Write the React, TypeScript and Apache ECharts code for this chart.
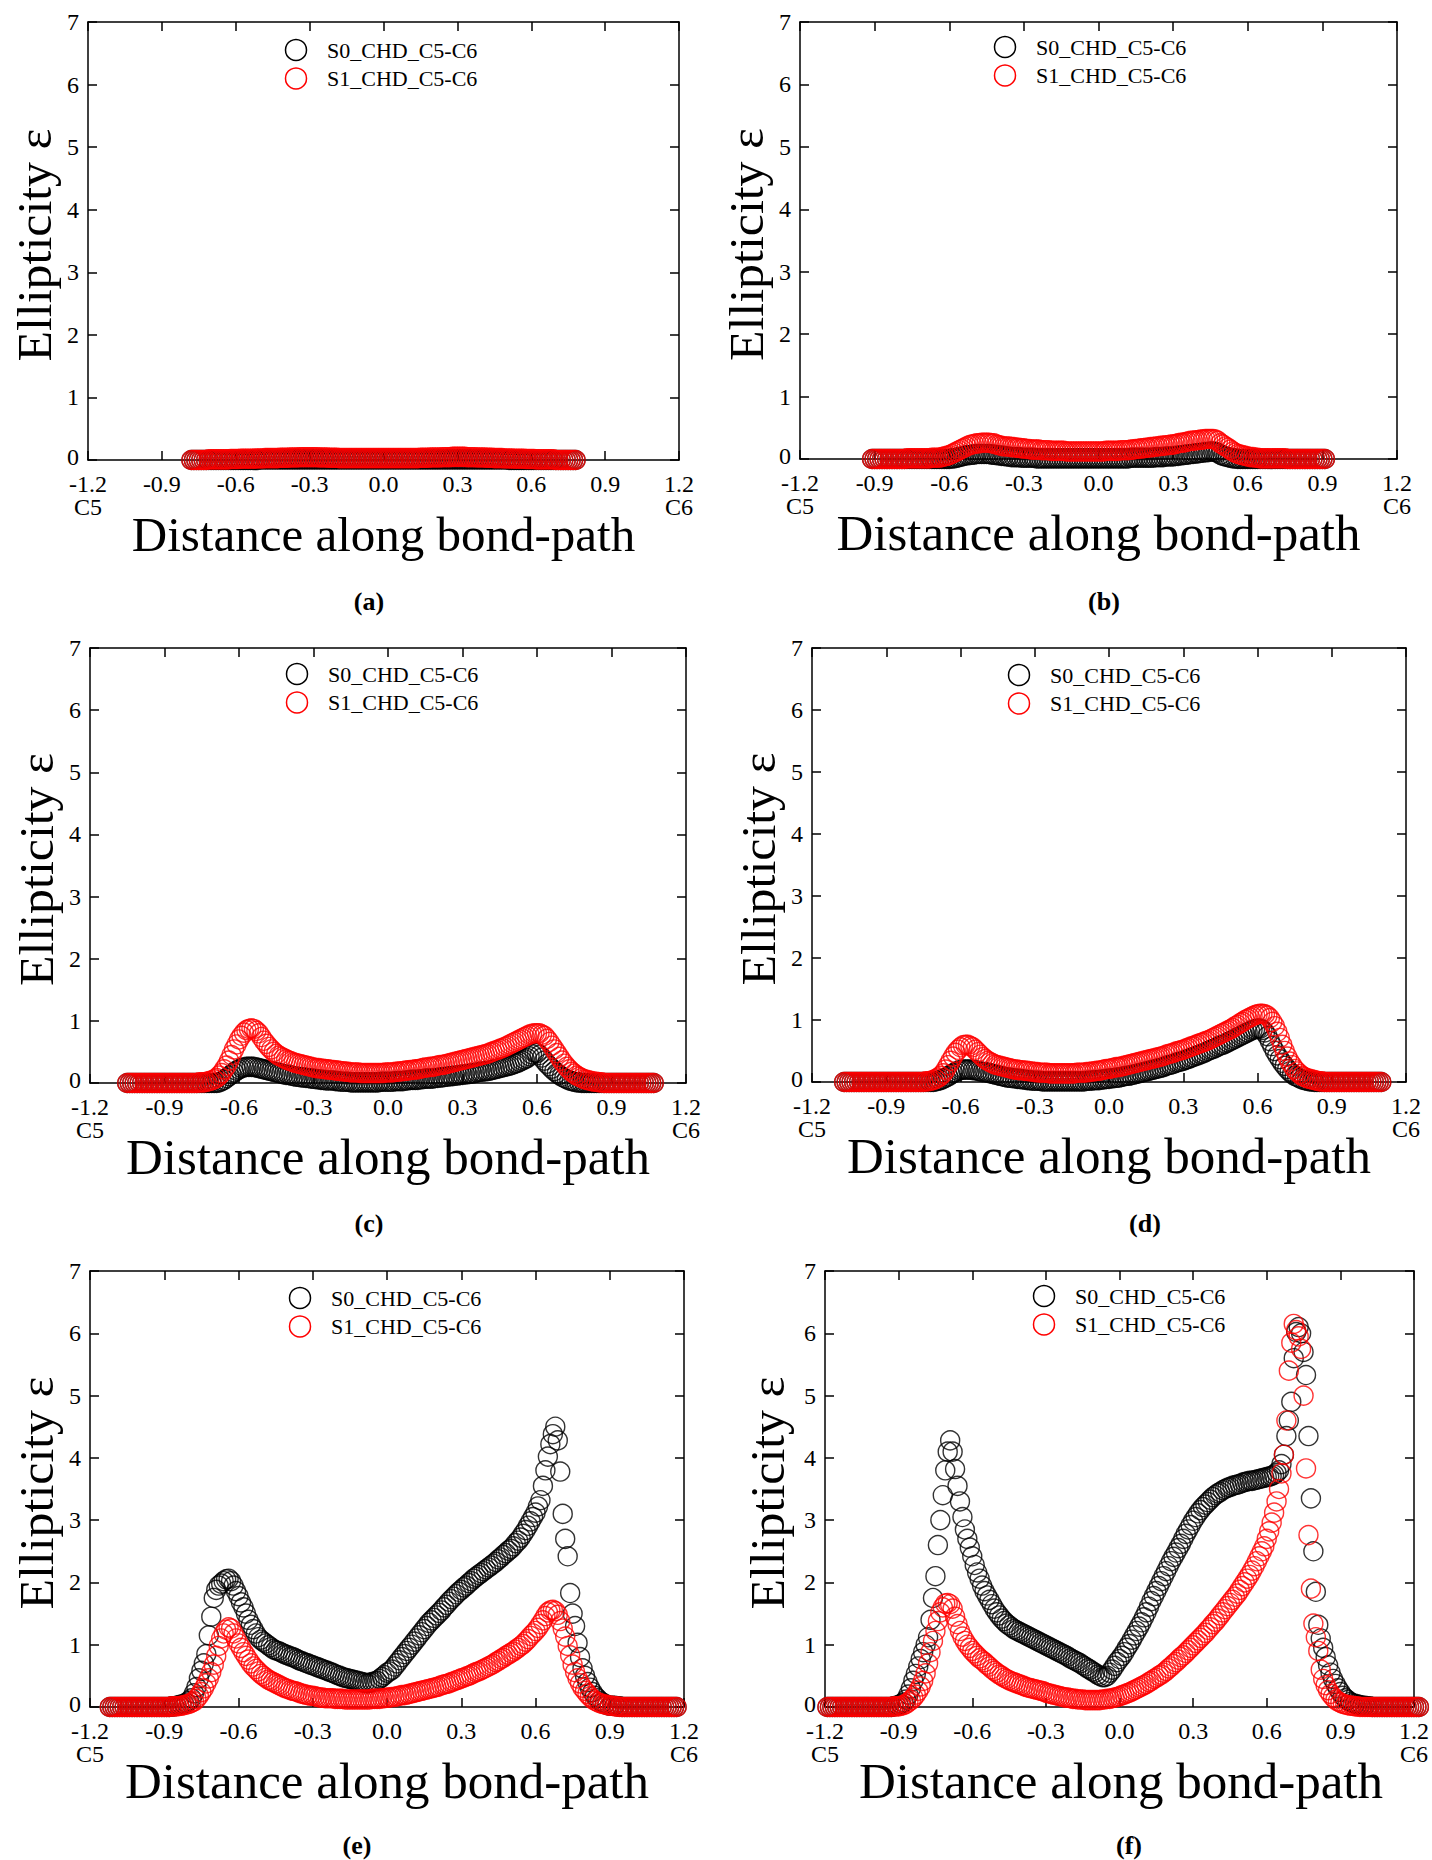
import React, { useEffect, useRef } from "react";
import * as echarts from "echarts";

// Ellipticity profiles along the C5-C6 bond-path, six snapshots (a)-(f).
// Each panel: sample positions (0.01 apart) plus S0 and S1 ellipticity values,
// written ten samples per line.

const SERIES_NAMES = ["S0_CHD_C5-C6", "S1_CHD_C5-C6"];
const PANEL_TAGS = ["(a)", "(b)", "(c)", "(d)", "(e)", "(f)"];
const X_TITLE = "Distance along bond-path";
const Y_TITLE = "Ellipticity \u03b5";
const X_MIN = -1.2;
const X_MAX = 1.2;
const X_STEP = 0.3;
const Y_MIN = 0;
const Y_MAX = 7;
const Y_STEP = 1;

// ---------- panel (a) ----------
const xsA = [
  -0.78, -0.77, -0.76, -0.75, -0.74, -0.73, -0.72, -0.71, -0.7, -0.69,
  -0.68, -0.67, -0.66, -0.65, -0.64, -0.63, -0.62, -0.61, -0.6, -0.59,
  -0.58, -0.57, -0.56, -0.55, -0.54, -0.53, -0.52, -0.51, -0.5, -0.49,
  -0.48, -0.47, -0.46, -0.45, -0.44, -0.43, -0.42, -0.41, -0.4, -0.39,
  -0.38, -0.37, -0.36, -0.35, -0.34, -0.33, -0.32, -0.31, -0.3, -0.29,
  -0.28, -0.27, -0.26, -0.25, -0.24, -0.23, -0.22, -0.21, -0.2, -0.19,
  -0.18, -0.17, -0.16, -0.15, -0.14, -0.13, -0.12, -0.11, -0.1, -0.09,
  -0.08, -0.07, -0.06, -0.05, -0.04, -0.03, -0.02, -0.01, 0.0, 0.01,
  0.02, 0.03, 0.04, 0.05, 0.06, 0.07, 0.08, 0.09, 0.1, 0.11,
  0.12, 0.13, 0.14, 0.15, 0.16, 0.17, 0.18, 0.19, 0.2, 0.21,
  0.22, 0.23, 0.24, 0.25, 0.26, 0.27, 0.28, 0.29, 0.3, 0.31,
  0.32, 0.33, 0.34, 0.35, 0.36, 0.37, 0.38, 0.39, 0.4, 0.41,
  0.42, 0.43, 0.44, 0.45, 0.46, 0.47, 0.48, 0.49, 0.5, 0.51,
  0.52, 0.53, 0.54, 0.55, 0.56, 0.57, 0.58, 0.59, 0.6, 0.61,
  0.62, 0.63, 0.64, 0.65, 0.66, 0.67, 0.68, 0.69, 0.7, 0.71,
  0.72, 0.73, 0.74, 0.75, 0.76, 0.77, 0.78,
];
const s0A = [
  0, 0, 0, 0, 0, 0, 0, 0, 0, 0,
  0, 0, 0, 0, 0, 0, 0, 0, 0, 0,
  0, 0, 0, 0, 0, 0, 0, 0, 0.01, 0.01,
  0.01, 0.01, 0.01, 0.01, 0.01, 0.01, 0.01, 0.01, 0.01, 0.01,
  0.01, 0.01, 0.01, 0.01, 0.01, 0.01, 0.01, 0.01, 0.01, 0.01,
  0.01, 0.01, 0.01, 0.01, 0.01, 0.01, 0.01, 0.01, 0.01, 0.01,
  0.01, 0.01, 0.01, 0.01, 0.01, 0.01, 0.01, 0.01, 0.01, 0.01,
  0.01, 0.01, 0.01, 0.01, 0.01, 0.01, 0.01, 0.01, 0.01, 0.01,
  0.01, 0.01, 0.01, 0.01, 0.01, 0.01, 0.01, 0.01, 0.01, 0.01,
  0.01, 0.01, 0.01, 0.01, 0.01, 0.01, 0.01, 0.01, 0.01, 0.01,
  0.01, 0.01, 0.01, 0.01, 0.01, 0.01, 0.01, 0.01, 0.01, 0.01,
  0.01, 0.01, 0.01, 0.01, 0.01, 0.01, 0.01, 0.01, 0.01, 0.01,
  0.01, 0.01, 0.01, 0.01, 0.01, 0.01, 0.01, 0.01, 0.01, 0,
  0, 0, 0, 0, 0, 0, 0, 0, 0, 0,
  0, 0, 0, 0, 0, 0, 0, 0, 0, 0,
  0, 0, 0, 0, 0, 0, 0,
];
const s1A = [
  0, 0, 0, 0, 0, 0, 0, 0.01, 0.01, 0.01,
  0.01, 0.01, 0.01, 0.01, 0.01, 0.01, 0.015, 0.015, 0.015, 0.015,
  0.02, 0.02, 0.02, 0.02, 0.02, 0.02, 0.025, 0.025, 0.025, 0.025,
  0.03, 0.03, 0.03, 0.03, 0.03, 0.03, 0.035, 0.035, 0.035, 0.035,
  0.04, 0.04, 0.04, 0.04, 0.045, 0.045, 0.045, 0.045, 0.045, 0.045,
  0.045, 0.045, 0.04, 0.04, 0.04, 0.04, 0.035, 0.035, 0.035, 0.035,
  0.03, 0.03, 0.03, 0.03, 0.03, 0.03, 0.03, 0.03, 0.03, 0.03,
  0.03, 0.03, 0.03, 0.03, 0.03, 0.03, 0.03, 0.03, 0.03, 0.03,
  0.03, 0.03, 0.03, 0.03, 0.03, 0.03, 0.03, 0.03, 0.03, 0.03,
  0.03, 0.03, 0.03, 0.035, 0.035, 0.035, 0.035, 0.04, 0.04, 0.04,
  0.04, 0.04, 0.045, 0.045, 0.045, 0.045, 0.05, 0.05, 0.05, 0.05,
  0.05, 0.05, 0.045, 0.045, 0.045, 0.045, 0.04, 0.04, 0.04, 0.04,
  0.035, 0.035, 0.035, 0.03, 0.03, 0.03, 0.03, 0.025, 0.025, 0.025,
  0.025, 0.02, 0.02, 0.02, 0.02, 0.02, 0.015, 0.015, 0.015, 0.015,
  0.01, 0.01, 0.01, 0.01, 0.01, 0.01, 0.01, 0.01, 0, 0,
  0, 0, 0, 0, 0, 0, 0,
];

// ---------- panel (b) ----------
const xsB = [
  -0.91, -0.9, -0.89, -0.88, -0.87, -0.86, -0.85, -0.84, -0.83, -0.82,
  -0.81, -0.8, -0.79, -0.78, -0.77, -0.76, -0.75, -0.74, -0.73, -0.72,
  -0.71, -0.7, -0.69, -0.68, -0.67, -0.66, -0.65, -0.64, -0.63, -0.62,
  -0.61, -0.6, -0.59, -0.58, -0.57, -0.56, -0.55, -0.54, -0.53, -0.52,
  -0.51, -0.5, -0.49, -0.48, -0.47, -0.46, -0.45, -0.44, -0.43, -0.42,
  -0.41, -0.4, -0.39, -0.38, -0.37, -0.36, -0.35, -0.34, -0.33, -0.32,
  -0.31, -0.3, -0.29, -0.28, -0.27, -0.26, -0.25, -0.24, -0.23, -0.22,
  -0.21, -0.2, -0.19, -0.18, -0.17, -0.16, -0.15, -0.14, -0.13, -0.12,
  -0.11, -0.1, -0.09, -0.08, -0.07, -0.06, -0.05, -0.04, -0.03, -0.02,
  -0.01, 0.0, 0.01, 0.02, 0.03, 0.04, 0.05, 0.06, 0.07, 0.08,
  0.09, 0.1, 0.11, 0.12, 0.13, 0.14, 0.15, 0.16, 0.17, 0.18,
  0.19, 0.2, 0.21, 0.22, 0.23, 0.24, 0.25, 0.26, 0.27, 0.28,
  0.29, 0.3, 0.31, 0.32, 0.33, 0.34, 0.35, 0.36, 0.37, 0.38,
  0.39, 0.4, 0.41, 0.42, 0.43, 0.44, 0.45, 0.46, 0.47, 0.48,
  0.49, 0.5, 0.51, 0.52, 0.53, 0.54, 0.55, 0.56, 0.57, 0.58,
  0.59, 0.6, 0.61, 0.62, 0.63, 0.64, 0.65, 0.66, 0.67, 0.68,
  0.69, 0.7, 0.71, 0.72, 0.73, 0.74, 0.75, 0.76, 0.77, 0.78,
  0.79, 0.8, 0.81, 0.82, 0.83, 0.84, 0.85, 0.86, 0.87, 0.88,
  0.89, 0.9, 0.91,
];
const s0B = [
  0, 0, 0, 0, 0, 0, 0, 0, 0, 0,
  0, 0, 0, 0, 0, 0, 0, 0, 0, 0,
  0, 0, 0, 0, 0, 0, 0, 0, 0, 0,
  0, 0, 0.01, 0.01, 0.02, 0.03, 0.04, 0.05, 0.06, 0.06,
  0.07, 0.07, 0.08, 0.08, 0.08, 0.08, 0.08, 0.08, 0.07, 0.07,
  0.06, 0.06, 0.05, 0.05, 0.04, 0.04, 0.03, 0.03, 0.03, 0.03,
  0.02, 0.02, 0.02, 0.02, 0.02, 0.02, 0.01, 0.01, 0.01, 0.01,
  0.01, 0.01, 0.01, 0.01, 0.01, 0.01, 0.01, 0.01, 0.01, 0.01,
  0.01, 0.01, 0.01, 0.01, 0.01, 0.01, 0.01, 0.01, 0.01, 0.01,
  0.01, 0.01, 0.01, 0.01, 0.01, 0.01, 0.01, 0.01, 0.01, 0.01,
  0.01, 0.01, 0.01, 0.01, 0.02, 0.02, 0.02, 0.02, 0.02, 0.02,
  0.02, 0.02, 0.02, 0.02, 0.03, 0.03, 0.03, 0.03, 0.04, 0.04,
  0.04, 0.04, 0.05, 0.05, 0.06, 0.06, 0.07, 0.07, 0.08, 0.08,
  0.09, 0.09, 0.1, 0.1, 0.11, 0.11, 0.12, 0.12, 0.11, 0.1,
  0.07, 0.05, 0.04, 0.03, 0.02, 0.01, 0.01, 0, 0, 0,
  0, 0, 0, 0, 0, 0, 0, 0, 0, 0,
  0, 0, 0, 0, 0, 0, 0, 0, 0, 0,
  0, 0, 0, 0, 0, 0, 0, 0, 0, 0,
  0, 0, 0,
];
const s1B = [
  0, 0, 0, 0, 0, 0, 0, 0, 0, 0,
  0, 0, 0, 0, 0.01, 0.01, 0.01, 0.01, 0.01, 0.01,
  0.01, 0.01, 0.01, 0.01, 0.02, 0.02, 0.02, 0.02, 0.03, 0.04,
  0.05, 0.06, 0.08, 0.1, 0.12, 0.14, 0.16, 0.18, 0.2, 0.22,
  0.23, 0.24, 0.25, 0.25, 0.26, 0.26, 0.26, 0.26, 0.25, 0.25,
  0.23, 0.22, 0.21, 0.2, 0.2, 0.2, 0.19, 0.19, 0.18, 0.18,
  0.17, 0.17, 0.16, 0.16, 0.15, 0.15, 0.15, 0.15, 0.14, 0.14,
  0.14, 0.14, 0.13, 0.13, 0.13, 0.13, 0.13, 0.13, 0.12, 0.12,
  0.12, 0.12, 0.12, 0.12, 0.12, 0.12, 0.12, 0.12, 0.12, 0.12,
  0.12, 0.12, 0.12, 0.12, 0.13, 0.13, 0.13, 0.13, 0.13, 0.13,
  0.14, 0.14, 0.14, 0.14, 0.15, 0.15, 0.16, 0.16, 0.17, 0.17,
  0.18, 0.18, 0.19, 0.19, 0.2, 0.2, 0.21, 0.21, 0.22, 0.22,
  0.23, 0.23, 0.24, 0.25, 0.26, 0.26, 0.27, 0.28, 0.29, 0.29,
  0.3, 0.3, 0.31, 0.31, 0.32, 0.32, 0.32, 0.32, 0.31, 0.29,
  0.25, 0.23, 0.2, 0.18, 0.15, 0.12, 0.1, 0.08, 0.07, 0.06,
  0.05, 0.04, 0.03, 0.03, 0.02, 0.02, 0.01, 0.01, 0.01, 0.01,
  0.01, 0.01, 0.01, 0.01, 0.01, 0.01, 0.01, 0, 0, 0,
  0, 0, 0, 0, 0, 0, 0, 0, 0, 0,
  0, 0, 0,
];

// ---------- panel (c) ----------
const xsC = [
  -1.05, -1.04, -1.03, -1.02, -1.01, -1.0, -0.99, -0.98, -0.97, -0.96,
  -0.95, -0.94, -0.93, -0.92, -0.91, -0.9, -0.89, -0.88, -0.87, -0.86,
  -0.85, -0.84, -0.83, -0.82, -0.81, -0.8, -0.79, -0.78, -0.77, -0.76,
  -0.75, -0.74, -0.73, -0.72, -0.71, -0.7, -0.69, -0.68, -0.67, -0.66,
  -0.65, -0.64, -0.63, -0.62, -0.61, -0.6, -0.59, -0.58, -0.57, -0.56,
  -0.55, -0.54, -0.53, -0.52, -0.51, -0.5, -0.49, -0.48, -0.47, -0.46,
  -0.45, -0.44, -0.43, -0.42, -0.41, -0.4, -0.39, -0.38, -0.37, -0.36,
  -0.35, -0.34, -0.33, -0.32, -0.31, -0.3, -0.29, -0.28, -0.27, -0.26,
  -0.25, -0.24, -0.23, -0.22, -0.21, -0.2, -0.19, -0.18, -0.17, -0.16,
  -0.15, -0.14, -0.13, -0.12, -0.11, -0.1, -0.09, -0.08, -0.07, -0.06,
  -0.05, -0.04, -0.03, -0.02, -0.01, 0.0, 0.01, 0.02, 0.03, 0.04,
  0.05, 0.06, 0.07, 0.08, 0.09, 0.1, 0.11, 0.12, 0.13, 0.14,
  0.15, 0.16, 0.17, 0.18, 0.19, 0.2, 0.21, 0.22, 0.23, 0.24,
  0.25, 0.26, 0.27, 0.28, 0.29, 0.3, 0.31, 0.32, 0.33, 0.34,
  0.35, 0.36, 0.37, 0.38, 0.39, 0.4, 0.41, 0.42, 0.43, 0.44,
  0.45, 0.46, 0.47, 0.48, 0.49, 0.5, 0.51, 0.52, 0.53, 0.54,
  0.55, 0.56, 0.57, 0.58, 0.59, 0.6, 0.61, 0.62, 0.63, 0.64,
  0.65, 0.66, 0.67, 0.68, 0.69, 0.7, 0.71, 0.72, 0.73, 0.74,
  0.75, 0.76, 0.77, 0.78, 0.79, 0.8, 0.81, 0.82, 0.83, 0.84,
  0.85, 0.86, 0.87, 0.88, 0.89, 0.9, 0.91, 0.92, 0.93, 0.94,
  0.95, 0.96, 0.97, 0.98, 0.99, 1.0, 1.01, 1.02, 1.03, 1.04,
  1.05, 1.06, 1.07,
];
const s0C = [
  0, 0, 0, 0, 0, 0, 0, 0, 0, 0,
  0, 0, 0, 0, 0, 0, 0, 0, 0, 0,
  0, 0, 0, 0, 0, 0, 0, 0, 0, 0,
  0, 0, 0, 0, 0, 0, 0, 0.01, 0.03, 0.05,
  0.08, 0.11, 0.14, 0.17, 0.2, 0.22, 0.24, 0.25, 0.26, 0.26,
  0.26, 0.26, 0.25, 0.24, 0.23, 0.22, 0.21, 0.2, 0.19, 0.18,
  0.17, 0.16, 0.15, 0.14, 0.13, 0.13, 0.12, 0.11, 0.1, 0.1,
  0.09, 0.09, 0.08, 0.08, 0.07, 0.07, 0.06, 0.06, 0.05, 0.05,
  0.04, 0.04, 0.04, 0.04, 0.03, 0.03, 0.02, 0.02, 0.02, 0.02,
  0.01, 0.01, 0.01, 0.01, 0.01, 0.01, 0.01, 0.01, 0.01, 0.01,
  0.01, 0.01, 0.02, 0.02, 0.02, 0.02, 0.02, 0.02, 0.03, 0.03,
  0.03, 0.03, 0.04, 0.04, 0.05, 0.05, 0.05, 0.05, 0.06, 0.06,
  0.07, 0.07, 0.07, 0.07, 0.08, 0.08, 0.09, 0.09, 0.1, 0.1,
  0.11, 0.11, 0.12, 0.12, 0.13, 0.13, 0.14, 0.14, 0.15, 0.15,
  0.16, 0.17, 0.18, 0.18, 0.19, 0.19, 0.2, 0.21, 0.22, 0.23,
  0.24, 0.25, 0.26, 0.27, 0.28, 0.29, 0.31, 0.32, 0.34, 0.36,
  0.38, 0.4, 0.43, 0.46, 0.49, 0.48, 0.45, 0.41, 0.36, 0.31,
  0.27, 0.23, 0.19, 0.16, 0.13, 0.1, 0.08, 0.06, 0.04, 0.03,
  0.02, 0.01, 0.01, 0, 0, 0, 0, 0, 0, 0,
  0, 0, 0, 0, 0, 0, 0, 0, 0, 0,
  0, 0, 0, 0, 0, 0, 0, 0, 0, 0,
  0, 0, 0,
];
const s1C = [
  0, 0, 0, 0, 0, 0, 0, 0, 0, 0,
  0, 0, 0, 0, 0, 0, 0, 0, 0, 0,
  0, 0, 0, 0, 0, 0, 0, 0, 0, 0.01,
  0.01, 0.01, 0.02, 0.03, 0.04, 0.06, 0.08, 0.12, 0.16, 0.22,
  0.28, 0.36, 0.45, 0.54, 0.62, 0.7, 0.76, 0.81, 0.85, 0.87,
  0.88, 0.87, 0.84, 0.8, 0.74, 0.68, 0.63, 0.58, 0.54, 0.5,
  0.47, 0.44, 0.42, 0.4, 0.38, 0.36, 0.35, 0.33, 0.32, 0.31,
  0.3, 0.29, 0.28, 0.27, 0.26, 0.25, 0.24, 0.24, 0.23, 0.23,
  0.22, 0.22, 0.21, 0.21, 0.2, 0.2, 0.19, 0.19, 0.18, 0.18,
  0.17, 0.17, 0.17, 0.17, 0.16, 0.16, 0.16, 0.16, 0.16, 0.16,
  0.16, 0.16, 0.16, 0.16, 0.17, 0.17, 0.17, 0.17, 0.18, 0.18,
  0.19, 0.19, 0.2, 0.2, 0.21, 0.21, 0.22, 0.22, 0.23, 0.24,
  0.25, 0.25, 0.26, 0.26, 0.27, 0.28, 0.29, 0.29, 0.3, 0.31,
  0.32, 0.33, 0.34, 0.35, 0.36, 0.37, 0.38, 0.39, 0.4, 0.41,
  0.42, 0.43, 0.44, 0.45, 0.46, 0.47, 0.49, 0.5, 0.52, 0.53,
  0.55, 0.56, 0.58, 0.6, 0.62, 0.64, 0.66, 0.68, 0.7, 0.72,
  0.74, 0.76, 0.78, 0.79, 0.8, 0.8, 0.8, 0.78, 0.76, 0.71,
  0.66, 0.6, 0.54, 0.48, 0.42, 0.36, 0.31, 0.26, 0.22, 0.18,
  0.15, 0.12, 0.1, 0.08, 0.06, 0.05, 0.04, 0.03, 0.02, 0.02,
  0.01, 0.01, 0, 0, 0, 0, 0, 0, 0, 0,
  0, 0, 0, 0, 0, 0, 0, 0, 0, 0,
  0, 0, 0,
];

// ---------- panel (d) ----------
const xsD = [
  -1.07, -1.06, -1.05, -1.04, -1.03, -1.02, -1.01, -1.0, -0.99, -0.98,
  -0.97, -0.96, -0.95, -0.94, -0.93, -0.92, -0.91, -0.9, -0.89, -0.88,
  -0.87, -0.86, -0.85, -0.84, -0.83, -0.82, -0.81, -0.8, -0.79, -0.78,
  -0.77, -0.76, -0.75, -0.74, -0.73, -0.72, -0.71, -0.7, -0.69, -0.68,
  -0.67, -0.66, -0.65, -0.64, -0.63, -0.62, -0.61, -0.6, -0.59, -0.58,
  -0.57, -0.56, -0.55, -0.54, -0.53, -0.52, -0.51, -0.5, -0.49, -0.48,
  -0.47, -0.46, -0.45, -0.44, -0.43, -0.42, -0.41, -0.4, -0.39, -0.38,
  -0.37, -0.36, -0.35, -0.34, -0.33, -0.32, -0.31, -0.3, -0.29, -0.28,
  -0.27, -0.26, -0.25, -0.24, -0.23, -0.22, -0.21, -0.2, -0.19, -0.18,
  -0.17, -0.16, -0.15, -0.14, -0.13, -0.12, -0.11, -0.1, -0.09, -0.08,
  -0.07, -0.06, -0.05, -0.04, -0.03, -0.02, -0.01, 0.0, 0.01, 0.02,
  0.03, 0.04, 0.05, 0.06, 0.07, 0.08, 0.09, 0.1, 0.11, 0.12,
  0.13, 0.14, 0.15, 0.16, 0.17, 0.18, 0.19, 0.2, 0.21, 0.22,
  0.23, 0.24, 0.25, 0.26, 0.27, 0.28, 0.29, 0.3, 0.31, 0.32,
  0.33, 0.34, 0.35, 0.36, 0.37, 0.38, 0.39, 0.4, 0.41, 0.42,
  0.43, 0.44, 0.45, 0.46, 0.47, 0.48, 0.49, 0.5, 0.51, 0.52,
  0.53, 0.54, 0.55, 0.56, 0.57, 0.58, 0.59, 0.6, 0.61, 0.62,
  0.63, 0.64, 0.65, 0.66, 0.67, 0.68, 0.69, 0.7, 0.71, 0.72,
  0.73, 0.74, 0.75, 0.76, 0.77, 0.78, 0.79, 0.8, 0.81, 0.82,
  0.83, 0.84, 0.85, 0.86, 0.87, 0.88, 0.89, 0.9, 0.91, 0.92,
  0.93, 0.94, 0.95, 0.96, 0.97, 0.98, 0.99, 1.0, 1.01, 1.02,
  1.03, 1.04, 1.05, 1.06, 1.07, 1.08, 1.09, 1.1,
];
const s0D = [
  0, 0, 0, 0, 0, 0, 0, 0, 0, 0,
  0, 0, 0, 0, 0, 0, 0, 0, 0, 0,
  0, 0, 0, 0, 0, 0, 0, 0, 0, 0,
  0, 0, 0, 0, 0, 0, 0, 0.01, 0.02, 0.03,
  0.05, 0.07, 0.09, 0.12, 0.14, 0.16, 0.18, 0.19, 0.2, 0.2,
  0.2, 0.2, 0.19, 0.19, 0.18, 0.17, 0.16, 0.16, 0.15, 0.14,
  0.13, 0.12, 0.11, 0.1, 0.09, 0.08, 0.07, 0.07, 0.06, 0.06,
  0.05, 0.05, 0.04, 0.04, 0.03, 0.03, 0.02, 0.02, 0.02, 0.02,
  0.01, 0.01, 0.01, 0.01, 0.01, 0.01, 0.01, 0.01, 0.01, 0.01,
  0.01, 0.01, 0.01, 0.01, 0.01, 0.01, 0.01, 0.01, 0.02, 0.02,
  0.02, 0.03, 0.03, 0.03, 0.04, 0.04, 0.05, 0.05, 0.06, 0.06,
  0.07, 0.07, 0.08, 0.09, 0.1, 0.1, 0.11, 0.12, 0.13, 0.14,
  0.15, 0.16, 0.17, 0.18, 0.19, 0.2, 0.21, 0.22, 0.23, 0.24,
  0.26, 0.27, 0.28, 0.29, 0.31, 0.32, 0.33, 0.34, 0.36, 0.37,
  0.39, 0.4, 0.42, 0.43, 0.45, 0.46, 0.48, 0.5, 0.52, 0.53,
  0.55, 0.57, 0.59, 0.6, 0.62, 0.64, 0.66, 0.68, 0.7, 0.72,
  0.74, 0.76, 0.78, 0.8, 0.82, 0.84, 0.85, 0.86, 0.86, 0.84,
  0.8, 0.74, 0.66, 0.58, 0.5, 0.43, 0.37, 0.31, 0.26, 0.21,
  0.17, 0.13, 0.1, 0.08, 0.06, 0.04, 0.03, 0.02, 0.01, 0.01,
  0, 0, 0, 0, 0, 0, 0, 0, 0, 0,
  0, 0, 0, 0, 0, 0, 0, 0, 0, 0,
  0, 0, 0, 0, 0, 0, 0, 0,
];
const s1D = [
  0, 0, 0, 0, 0, 0, 0, 0, 0, 0,
  0, 0, 0, 0, 0, 0, 0, 0, 0, 0,
  0, 0, 0, 0, 0, 0, 0, 0, 0, 0,
  0, 0, 0, 0.01, 0.01, 0.02, 0.03, 0.05, 0.07, 0.1,
  0.14, 0.2, 0.27, 0.34, 0.41, 0.47, 0.52, 0.56, 0.59, 0.6,
  0.6, 0.58, 0.56, 0.52, 0.48, 0.44, 0.4, 0.37, 0.34, 0.32,
  0.3, 0.28, 0.27, 0.26, 0.25, 0.24, 0.23, 0.22, 0.21, 0.2,
  0.2, 0.19, 0.19, 0.18, 0.18, 0.17, 0.17, 0.16, 0.16, 0.15,
  0.15, 0.15, 0.15, 0.14, 0.14, 0.14, 0.14, 0.14, 0.14, 0.14,
  0.14, 0.14, 0.14, 0.14, 0.15, 0.15, 0.15, 0.15, 0.16, 0.16,
  0.17, 0.17, 0.18, 0.18, 0.19, 0.2, 0.21, 0.21, 0.22, 0.23,
  0.24, 0.24, 0.25, 0.26, 0.27, 0.28, 0.29, 0.3, 0.31, 0.32,
  0.33, 0.34, 0.35, 0.36, 0.37, 0.38, 0.39, 0.4, 0.41, 0.42,
  0.44, 0.45, 0.46, 0.47, 0.49, 0.5, 0.51, 0.52, 0.54, 0.55,
  0.57, 0.58, 0.6, 0.61, 0.63, 0.64, 0.66, 0.67, 0.69, 0.71,
  0.73, 0.75, 0.77, 0.79, 0.81, 0.83, 0.85, 0.87, 0.9, 0.92,
  0.95, 0.97, 1.0, 1.02, 1.04, 1.06, 1.08, 1.09, 1.1, 1.1,
  1.09, 1.07, 1.03, 0.97, 0.9, 0.81, 0.71, 0.6, 0.5, 0.41,
  0.33, 0.27, 0.21, 0.17, 0.13, 0.1, 0.08, 0.06, 0.05, 0.04,
  0.03, 0.02, 0.01, 0.01, 0, 0, 0, 0, 0, 0,
  0, 0, 0, 0, 0, 0, 0, 0, 0, 0,
  0, 0, 0, 0, 0, 0, 0, 0,
];

// ---------- panel (e) ----------
const xsE = [
  -1.12, -1.11, -1.1, -1.09, -1.08, -1.07, -1.06, -1.05, -1.04, -1.03,
  -1.02, -1.01, -1.0, -0.99, -0.98, -0.97, -0.96, -0.95, -0.94, -0.93,
  -0.92, -0.91, -0.9, -0.89, -0.88, -0.87, -0.86, -0.85, -0.84, -0.83,
  -0.82, -0.81, -0.8, -0.79, -0.78, -0.77, -0.76, -0.75, -0.74, -0.73,
  -0.72, -0.71, -0.7, -0.69, -0.68, -0.67, -0.66, -0.65, -0.64, -0.63,
  -0.62, -0.61, -0.6, -0.59, -0.58, -0.57, -0.56, -0.55, -0.54, -0.53,
  -0.52, -0.51, -0.5, -0.49, -0.48, -0.47, -0.46, -0.45, -0.44, -0.43,
  -0.42, -0.41, -0.4, -0.39, -0.38, -0.37, -0.36, -0.35, -0.34, -0.33,
  -0.32, -0.31, -0.3, -0.29, -0.28, -0.27, -0.26, -0.25, -0.24, -0.23,
  -0.22, -0.21, -0.2, -0.19, -0.18, -0.17, -0.16, -0.15, -0.14, -0.13,
  -0.12, -0.11, -0.1, -0.09, -0.08, -0.07, -0.06, -0.05, -0.04, -0.03,
  -0.02, -0.01, 0.0, 0.01, 0.02, 0.03, 0.04, 0.05, 0.06, 0.07,
  0.08, 0.09, 0.1, 0.11, 0.12, 0.13, 0.14, 0.15, 0.16, 0.17,
  0.18, 0.19, 0.2, 0.21, 0.22, 0.23, 0.24, 0.25, 0.26, 0.27,
  0.28, 0.29, 0.3, 0.31, 0.32, 0.33, 0.34, 0.35, 0.36, 0.37,
  0.38, 0.39, 0.4, 0.41, 0.42, 0.43, 0.44, 0.45, 0.46, 0.47,
  0.48, 0.49, 0.5, 0.51, 0.52, 0.53, 0.54, 0.55, 0.56, 0.57,
  0.58, 0.59, 0.6, 0.61, 0.62, 0.63, 0.64, 0.65, 0.66, 0.67,
  0.68, 0.69, 0.7, 0.71, 0.72, 0.73, 0.74, 0.75, 0.76, 0.77,
  0.78, 0.79, 0.8, 0.81, 0.82, 0.83, 0.84, 0.85, 0.86, 0.87,
  0.88, 0.89, 0.9, 0.91, 0.92, 0.93, 0.94, 0.95, 0.96, 0.97,
  0.98, 0.99, 1.0, 1.01, 1.02, 1.03, 1.04, 1.05, 1.06, 1.07,
  1.08, 1.09, 1.1, 1.11, 1.12, 1.13, 1.14, 1.15, 1.16, 1.17,
];
const s0E = [
  0, 0, 0, 0, 0, 0, 0, 0, 0, 0,
  0, 0, 0, 0, 0, 0, 0, 0, 0, 0,
  0, 0, 0, 0, 0, 0.01, 0.01, 0.02, 0.03, 0.04,
  0.05, 0.07, 0.1, 0.14, 0.22, 0.32, 0.46, 0.58, 0.7, 0.85,
  1.15, 1.45, 1.75, 1.88, 1.95, 1.98, 2.02, 2.05, 2.06, 2.02,
  1.95, 1.86, 1.78, 1.68, 1.6, 1.5, 1.4, 1.32, 1.25, 1.18,
  1.12, 1.08, 1.05, 1.02, 0.99, 0.96, 0.93, 0.91, 0.9, 0.88,
  0.86, 0.84, 0.83, 0.81, 0.8, 0.78, 0.76, 0.74, 0.73, 0.71,
  0.7, 0.68, 0.67, 0.65, 0.64, 0.62, 0.61, 0.59, 0.58, 0.56,
  0.55, 0.53, 0.51, 0.5, 0.48, 0.47, 0.46, 0.45, 0.44, 0.43,
  0.42, 0.41, 0.4, 0.39, 0.38, 0.39, 0.4, 0.41, 0.42, 0.45,
  0.48, 0.51, 0.55, 0.57, 0.6, 0.65, 0.7, 0.75, 0.8, 0.85,
  0.9, 0.95, 1.0, 1.05, 1.1, 1.15, 1.2, 1.25, 1.3, 1.35,
  1.39, 1.43, 1.47, 1.51, 1.55, 1.6, 1.64, 1.69, 1.73, 1.77,
  1.81, 1.85, 1.88, 1.92, 1.95, 1.99, 2.02, 2.06, 2.09, 2.12,
  2.15, 2.18, 2.21, 2.24, 2.27, 2.3, 2.33, 2.37, 2.4, 2.44,
  2.47, 2.51, 2.54, 2.58, 2.63, 2.67, 2.72, 2.78, 2.84, 2.91,
  2.98, 3.05, 3.12, 3.22, 3.32, 3.55, 3.8, 4.02, 4.22, 4.38,
  4.5, 4.28, 3.78, 3.1, 2.7, 2.42, 1.83, 1.5, 1.3, 1.03,
  0.8, 0.62, 0.5, 0.4, 0.31, 0.24, 0.18, 0.14, 0.1, 0.07,
  0.05, 0.03, 0.02, 0.02, 0.02, 0.01, 0.01, 0, 0, 0,
  0, 0, 0, 0, 0, 0, 0, 0, 0, 0,
  0, 0, 0, 0, 0, 0, 0, 0, 0, 0,
];
const s1E = [
  0, 0, 0, 0, 0, 0, 0, 0, 0, 0,
  0, 0, 0, 0, 0, 0, 0, 0, 0, 0,
  0, 0, 0, 0, 0, 0.01, 0.01, 0.01, 0.015, 0.02,
  0.03, 0.04, 0.05, 0.07, 0.09, 0.13, 0.18, 0.24, 0.3, 0.38,
  0.46, 0.56, 0.68, 0.82, 0.98, 1.1, 1.18, 1.24, 1.28, 1.26,
  1.18, 1.1, 1.02, 0.95, 0.88, 0.82, 0.76, 0.7, 0.65, 0.61,
  0.57, 0.53, 0.5, 0.47, 0.44, 0.42, 0.4, 0.38, 0.36, 0.34,
  0.32, 0.3, 0.29, 0.27, 0.26, 0.25, 0.24, 0.22, 0.21, 0.2,
  0.19, 0.18, 0.18, 0.17, 0.16, 0.15, 0.15, 0.14, 0.14, 0.14,
  0.14, 0.13, 0.13, 0.13, 0.13, 0.12, 0.12, 0.12, 0.12, 0.12,
  0.12, 0.12, 0.12, 0.12, 0.12, 0.12, 0.13, 0.13, 0.13, 0.13,
  0.14, 0.14, 0.15, 0.15, 0.16, 0.16, 0.17, 0.18, 0.19, 0.19,
  0.2, 0.21, 0.22, 0.23, 0.24, 0.25, 0.26, 0.27, 0.28, 0.29,
  0.3, 0.31, 0.32, 0.33, 0.35, 0.36, 0.37, 0.38, 0.4, 0.41,
  0.43, 0.44, 0.46, 0.47, 0.49, 0.5, 0.52, 0.54, 0.56, 0.57,
  0.59, 0.61, 0.63, 0.65, 0.67, 0.69, 0.72, 0.74, 0.77, 0.79,
  0.82, 0.84, 0.87, 0.89, 0.92, 0.95, 0.98, 1.01, 1.05, 1.09,
  1.14, 1.18, 1.22, 1.27, 1.33, 1.39, 1.46, 1.52, 1.55, 1.56,
  1.54, 1.48, 1.38, 1.26, 1.13, 0.98, 0.83, 0.68, 0.56, 0.46,
  0.38, 0.31, 0.26, 0.21, 0.17, 0.13, 0.1, 0.08, 0.06, 0.05,
  0.04, 0.03, 0.02, 0.02, 0.01, 0.01, 0, 0, 0, 0,
  0, 0, 0, 0, 0, 0, 0, 0, 0, 0,
  0, 0, 0, 0, 0, 0, 0, 0, 0, 0,
];

// ---------- panel (f) ----------
const xsF = [
  -1.19, -1.18, -1.17, -1.16, -1.15, -1.14, -1.13, -1.12, -1.11, -1.1,
  -1.09, -1.08, -1.07, -1.06, -1.05, -1.04, -1.03, -1.02, -1.01, -1.0,
  -0.99, -0.98, -0.97, -0.96, -0.95, -0.94, -0.93, -0.92, -0.91, -0.9,
  -0.89, -0.88, -0.87, -0.86, -0.85, -0.84, -0.83, -0.82, -0.81, -0.8,
  -0.79, -0.78, -0.77, -0.76, -0.75, -0.74, -0.73, -0.72, -0.71, -0.7,
  -0.69, -0.68, -0.67, -0.66, -0.65, -0.64, -0.63, -0.62, -0.61, -0.6,
  -0.59, -0.58, -0.57, -0.56, -0.55, -0.54, -0.53, -0.52, -0.51, -0.5,
  -0.49, -0.48, -0.47, -0.46, -0.45, -0.44, -0.43, -0.42, -0.41, -0.4,
  -0.39, -0.38, -0.37, -0.36, -0.35, -0.34, -0.33, -0.32, -0.31, -0.3,
  -0.29, -0.28, -0.27, -0.26, -0.25, -0.24, -0.23, -0.22, -0.21, -0.2,
  -0.19, -0.18, -0.17, -0.16, -0.15, -0.14, -0.13, -0.12, -0.11, -0.1,
  -0.09, -0.08, -0.07, -0.06, -0.05, -0.04, -0.03, -0.02, -0.01, 0.0,
  0.01, 0.02, 0.03, 0.04, 0.05, 0.06, 0.07, 0.08, 0.09, 0.1,
  0.11, 0.12, 0.13, 0.14, 0.15, 0.16, 0.17, 0.18, 0.19, 0.2,
  0.21, 0.22, 0.23, 0.24, 0.25, 0.26, 0.27, 0.28, 0.29, 0.3,
  0.31, 0.32, 0.33, 0.34, 0.35, 0.36, 0.37, 0.38, 0.39, 0.4,
  0.41, 0.42, 0.43, 0.44, 0.45, 0.46, 0.47, 0.48, 0.49, 0.5,
  0.51, 0.52, 0.53, 0.54, 0.55, 0.56, 0.57, 0.58, 0.59, 0.6,
  0.61, 0.62, 0.63, 0.64, 0.65, 0.66, 0.67, 0.68, 0.69, 0.7,
  0.71, 0.72, 0.73, 0.74, 0.75, 0.76, 0.77, 0.78, 0.79, 0.8,
  0.81, 0.82, 0.83, 0.84, 0.85, 0.86, 0.87, 0.88, 0.89, 0.9,
  0.91, 0.92, 0.93, 0.94, 0.95, 0.96, 0.97, 0.98, 0.99, 1.0,
  1.01, 1.02, 1.03, 1.04, 1.05, 1.06, 1.07, 1.08, 1.09, 1.1,
  1.11, 1.12, 1.13, 1.14, 1.15, 1.16, 1.17, 1.18, 1.19, 1.2,
  1.21, 1.22,
];
const s0F = [
  0, 0, 0, 0, 0, 0, 0, 0, 0, 0,
  0, 0, 0, 0, 0, 0, 0, 0, 0, 0,
  0, 0, 0, 0, 0, 0, 0, 0.01, 0.02, 0.03,
  0.05, 0.07, 0.12, 0.2, 0.3, 0.42, 0.53, 0.65, 0.77, 0.88,
  1.0, 1.12, 1.4, 1.75, 2.1, 2.6, 3.0, 3.4, 3.8, 4.1,
  4.28, 4.1, 3.82, 3.55, 3.3, 3.05, 2.85, 2.7, 2.56, 2.42,
  2.28, 2.16, 2.06, 1.95, 1.86, 1.79, 1.72, 1.65, 1.58, 1.52,
  1.47, 1.42, 1.38, 1.34, 1.31, 1.28, 1.25, 1.23, 1.21, 1.19,
  1.17, 1.15, 1.13, 1.11, 1.09, 1.07, 1.05, 1.03, 1.01, 0.99,
  0.97, 0.95, 0.93, 0.91, 0.89, 0.87, 0.85, 0.83, 0.81, 0.78,
  0.76, 0.74, 0.72, 0.7, 0.67, 0.65, 0.62, 0.6, 0.57, 0.55,
  0.52, 0.5, 0.48, 0.48, 0.5, 0.55, 0.6, 0.66, 0.72, 0.77,
  0.82, 0.88, 0.95, 1.01, 1.08, 1.15, 1.22, 1.29, 1.36, 1.44,
  1.52, 1.61, 1.7, 1.78, 1.86, 1.94, 2.02, 2.1, 2.18, 2.26,
  2.34, 2.41, 2.48, 2.55, 2.62, 2.7, 2.78, 2.85, 2.92, 2.99,
  3.05, 3.11, 3.16, 3.21, 3.25, 3.29, 3.33, 3.37, 3.4, 3.43,
  3.45, 3.48, 3.5, 3.52, 3.53, 3.55, 3.56, 3.57, 3.58, 3.6,
  3.61, 3.62, 3.63, 3.63, 3.64, 3.65, 3.66, 3.67, 3.68, 3.69,
  3.7, 3.71, 3.73, 3.76, 3.8, 3.9, 4.05, 4.35, 4.6, 4.9,
  5.6, 6.02, 6.1, 6.0, 5.7, 5.33, 4.35, 3.35, 2.5, 1.85,
  1.32, 1.1, 0.95, 0.8, 0.67, 0.55, 0.45, 0.37, 0.3, 0.24,
  0.18, 0.14, 0.11, 0.08, 0.06, 0.05, 0.04, 0.03, 0.02, 0.02,
  0.01, 0.01, 0, 0, 0, 0, 0, 0, 0, 0,
  0, 0, 0, 0, 0, 0, 0, 0, 0, 0,
  0, 0,
];
const s1F = [
  0, 0, 0, 0, 0, 0, 0, 0, 0, 0,
  0, 0, 0, 0, 0, 0, 0, 0, 0, 0,
  0, 0, 0, 0, 0, 0, 0, 0.01, 0.01, 0.01,
  0.02, 0.03, 0.05, 0.08, 0.11, 0.15, 0.2, 0.26, 0.33, 0.42,
  0.54, 0.7, 0.88, 1.06, 1.22, 1.38, 1.52, 1.6, 1.66, 1.67,
  1.65, 1.58, 1.45, 1.33, 1.22, 1.13, 1.06, 1.0, 0.95, 0.9,
  0.86, 0.82, 0.78, 0.75, 0.72, 0.68, 0.65, 0.61, 0.58, 0.55,
  0.52, 0.5, 0.47, 0.45, 0.43, 0.41, 0.4, 0.38, 0.37, 0.35,
  0.34, 0.32, 0.31, 0.3, 0.29, 0.28, 0.27, 0.26, 0.25, 0.23,
  0.22, 0.21, 0.2, 0.19, 0.18, 0.17, 0.16, 0.15, 0.15, 0.14,
  0.13, 0.13, 0.12, 0.12, 0.12, 0.11, 0.11, 0.11, 0.11, 0.11,
  0.11, 0.11, 0.12, 0.12, 0.13, 0.13, 0.14, 0.15, 0.16, 0.17,
  0.19, 0.2, 0.22, 0.23, 0.25, 0.27, 0.29, 0.31, 0.33, 0.35,
  0.37, 0.4, 0.42, 0.45, 0.47, 0.5, 0.52, 0.55, 0.58, 0.62,
  0.65, 0.69, 0.72, 0.76, 0.8, 0.83, 0.87, 0.91, 0.95, 0.99,
  1.03, 1.07, 1.11, 1.15, 1.19, 1.24, 1.28, 1.33, 1.37, 1.42,
  1.47, 1.52, 1.57, 1.62, 1.67, 1.72, 1.77, 1.82, 1.88, 1.94,
  2.0, 2.06, 2.12, 2.19, 2.26, 2.34, 2.42, 2.5, 2.58, 2.7,
  2.82, 2.96, 3.12, 3.3, 3.5, 3.75, 4.05, 4.6, 5.4, 5.85,
  6.15, 6.05, 5.95, 5.75, 5.0, 3.83, 2.76, 1.9, 1.34, 1.12,
  0.9, 0.6, 0.45, 0.35, 0.27, 0.21, 0.16, 0.12, 0.09, 0.07,
  0.05, 0.04, 0.03, 0.02, 0.02, 0.01, 0.01, 0, 0, 0,
  0, 0, 0, 0, 0, 0, 0, 0, 0, 0,
  0, 0, 0, 0, 0, 0, 0, 0, 0, 0,
  0, 0,
];

const PANEL_DATA = [
  { xs: xsA, s0: s0A, s1: s1A },
  { xs: xsB, s0: s0B, s1: s1B },
  { xs: xsC, s0: s0C, s1: s1C },
  { xs: xsD, s0: s0D, s1: s1D },
  { xs: xsE, s0: s0E, s1: s1E },
  { xs: xsF, s0: s0F, s1: s1F },
];

// Page layout of the six plot frames, their legends, titles and captions (pixels).
const LAYOUT = [
  { left: 88, top: 22, width: 591, height: 438, legX: 296, legY: 50, capX: 369, capY: 601, ytOff: 53, xtSize: 49 },
  { left: 800, top: 22, width: 597, height: 437, legX: 1005, legY: 47, capX: 1104, capY: 601, ytOff: 53, xtSize: 51 },
  { left: 90, top: 648, width: 596, height: 435, legX: 297, legY: 674, capX: 369, capY: 1223, ytOff: 53, xtSize: 51 },
  { left: 812, top: 648, width: 594, height: 434, legX: 1019, legY: 675, capX: 1145, capY: 1223, ytOff: 53, xtSize: 51 },
  { left: 90, top: 1271, width: 594, height: 436, legX: 300, legY: 1298, capX: 357, capY: 1845, ytOff: 53, xtSize: 51 },
  { left: 825, top: 1271, width: 592, height: 436, legX: 1044, legY: 1296, capX: 1129, capY: 1845, ytOff: 57, xtSize: 51 },
];

const FONT = '"Liberation Serif", "Times New Roman", serif';
const INK = "#000000";
const RED = "#ff0000";
const SERIES_COLORS = [INK, RED];

function toPairs(xs: number[], ys: number[]) {
  const out: number[][] = [];
  for (let i = 0; i < xs.length && i < ys.length; i++) out.push([xs[i], ys[i]]);
  return out;
}

function xLabel(v: number) {
  if (Math.abs(v) < 1e-9) return "0.0";
  const s = v.toFixed(1);
  if (Math.abs(v - X_MIN) < 1e-6) return s + "\nC5";
  if (Math.abs(v - X_MAX) < 1e-6) return s + "\nC6";
  return s;
}

// the zero label sits a little higher so it clears the corner x label
function yLabel(v: number) {
  if (Math.abs(v) < 1e-9) return "{zero|0}";
  return String(Math.round(v));
}

function buildOption() {
  const axisLine = { show: true, onZero: false, lineStyle: { color: INK, width: 1.5 } };
  const axisTick = { show: true, inside: true, length: 9, lineStyle: { color: INK, width: 1.5 } };

  const grid: any[] = [];
  const xAxis: any[] = [];
  const yAxis: any[] = [];
  const series: any[] = [];
  const graphic: any[] = [];

  LAYOUT.forEach((g, i) => {
    grid.push({ left: g.left, top: g.top, width: g.width, height: g.height, containLabel: false });

    const xBase = {
      gridIndex: i,
      type: "value",
      min: X_MIN,
      max: X_MAX,
      interval: X_STEP,
      axisLine,
      axisTick,
      splitLine: { show: false },
    };
    xAxis.push({
      ...xBase,
      position: "bottom",
      axisLabel: {
        color: INK,
        fontFamily: FONT,
        fontSize: 24,
        lineHeight: 23,
        margin: 12,
        showMinLabel: true,
        showMaxLabel: true,
        formatter: xLabel,
      },
    });
    xAxis.push({ ...xBase, position: "top", axisLabel: { show: false } });

    const yBase = {
      gridIndex: i,
      type: "value",
      min: Y_MIN,
      max: Y_MAX,
      interval: Y_STEP,
      axisLine,
      axisTick,
      splitLine: { show: false },
    };
    yAxis.push({
      ...yBase,
      position: "left",
      axisLabel: {
        color: INK,
        fontFamily: FONT,
        fontSize: 24,
        lineHeight: 18,
        margin: 9,
        formatter: yLabel,
        rich: {
          zero: {
            color: INK,
            fontFamily: FONT,
            fontSize: 24,
            lineHeight: 18,
            padding: [0, 0, 7, 0],
          },
        },
      },
    });
    yAxis.push({ ...yBase, position: "right", axisLabel: { show: false } });

    const d = PANEL_DATA[i];
    [d.s0, d.s1].forEach((ys, k) => {
      series.push({
        type: "scatter",
        name: SERIES_NAMES[k],
        xAxisIndex: 2 * i,
        yAxisIndex: 2 * i,
        data: toPairs(d.xs, ys),
        symbol: "circle",
        symbolSize: 19,
        clip: false,
        silent: true,
        z: 2 + k,
        itemStyle: { color: "rgba(0,0,0,0)", borderColor: SERIES_COLORS[k], borderWidth: 1.4 },
      });
    });

    // x-axis title
    graphic.push({
      type: "text",
      x: g.left + g.width / 2,
      y: g.top + g.height + 74,
      style: {
        text: X_TITLE,
        fill: INK,
        fontFamily: FONT,
        fontSize: g.xtSize,
        align: "center",
        verticalAlign: "middle",
      },
      silent: true,
    });

    // y-axis title, reading bottom to top
    graphic.push({
      type: "text",
      x: g.left - g.ytOff,
      y: g.top + g.height / 2 + 4,
      rotation: Math.PI / 2,
      scaleX: 1.04,
      scaleY: 1,
      style: {
        text: Y_TITLE,
        fill: INK,
        fontFamily: FONT,
        fontSize: 48,
        align: "center",
        verticalAlign: "middle",
      },
      silent: true,
    });

    // legend block
    SERIES_NAMES.forEach((nm, k) => {
      const cy = g.legY + k * 28.5;
      graphic.push({
        type: "circle",
        shape: { cx: g.legX, cy, r: 10.5 },
        style: { fill: "none", stroke: SERIES_COLORS[k], lineWidth: 1.5 },
        silent: true,
      });
      graphic.push({
        type: "text",
        x: g.legX + 31,
        y: cy,
        style: {
          text: nm,
          fill: INK,
          fontFamily: FONT,
          fontSize: 22,
          align: "left",
          verticalAlign: "middle",
        },
        silent: true,
      });
    });

    // panel caption
    graphic.push({
      type: "text",
      x: g.capX,
      y: g.capY,
      style: {
        text: PANEL_TAGS[i],
        fill: INK,
        fontFamily: FONT,
        fontSize: 26,
        fontWeight: "bold",
        align: "center",
        verticalAlign: "middle",
      },
      silent: true,
    });
  });

  return {
    animation: false,
    backgroundColor: "#ffffff",
    grid,
    xAxis,
    yAxis,
    series,
    graphic,
  };
}

export default function App() {
  const ref = useRef<HTMLDivElement>(null);
  useEffect(() => {
    if (!ref.current) return;
    const chart = echarts.init(ref.current, undefined, { renderer: "svg" });
    chart.setOption(buildOption() as any);
    return () => chart.dispose();
  }, []);
  return (
    <div
      ref={ref}
      style={{ position: "absolute", left: 0, top: 0, width: 1432, height: 1860, background: "#fff" }}
    />
  );
}
